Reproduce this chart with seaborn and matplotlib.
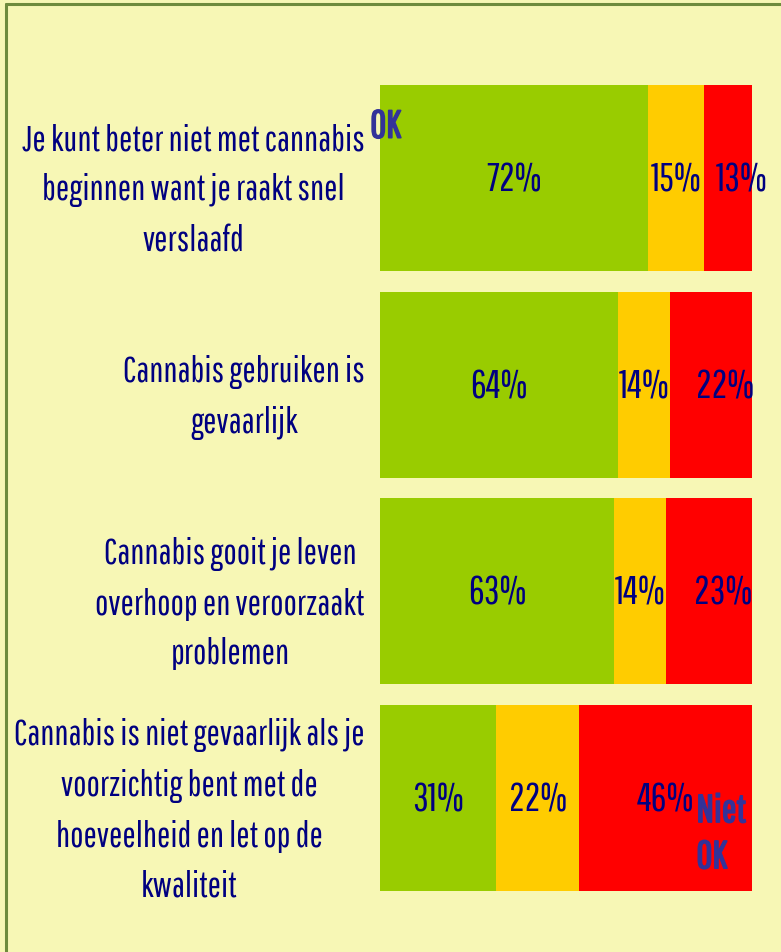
import pandas as pd
import seaborn as sns
from matplotlib import pyplot as plt
from matplotlib import patheffects as pe
from matplotlib.lines import Line2D

sns.set_style("white")
plt.rcParams['font.family'] = ['Pathway Gothic One', 'Liberation Sans Narrow', 'DejaVu Sans']

# data
categories = [
    "Je kunt beter niet met cannabis\nbeginnen want je raakt snel\nverslaafd",
    "Cannabis gebruiken is\ngevaarlijk",
    "Cannabis gooit je leven\noverhoop en veroorzaakt\nproblemen",
    "Cannabis is niet gevaarlijk als je\nvoorzichtig bent met de\nhoeveelheid en let op de\nkwaliteit",
]
ok = [72, 64, 63, 31]
neutral = [15, 14, 14, 22]
not_ok = [13, 22, 23, 46]

BG = "#F7F7B5"
NAVY = "#000080"
BLUE = "#333399"
colors = {"ok": "#99CC00", "neutral": "#FFCC00", "not_ok": "#FF0000"}

df = pd.DataFrame({"cat": categories, "ok": ok, "neutral": neutral, "not_ok": not_ok})
# 100% stacked: normalise each row
tot = df[["ok", "neutral", "not_ok"]].sum(axis=1)
df["s_ok"] = df.ok / tot * 100
df["s_neu"] = df.neutral / tot * 100
df["s_not"] = df.not_ok / tot * 100
df["c1"] = df.s_ok
df["c2"] = df.s_ok + df.s_neu
df["c3"] = df.c2 + df.s_not

fig = plt.figure(figsize=(7.81, 9.53), dpi=100, facecolor=BG)
ax = fig.add_axes([380 / 781, 1 - 892 / 953, 372 / 781, (892 - 86) / 953])
ax.set_facecolor(BG)

# draw largest cumulative first so the smaller ones sit on top
for col, key in [("c3", "not_ok"), ("c2", "neutral"), ("c1", "ok")]:
    sns.barplot(data=df, x=col, y="cat", color=colors[key], saturation=1,
                width=0.9, ax=ax, linewidth=0)

# percentage labels
fs_val = 28
fs_cat = 25.5
for i, row in df.iterrows():
    starts = [0, row.c1, row.c2]
    widths = [row.s_ok, row.s_neu, row.s_not]
    vals = [row.ok, row.neutral, row.not_ok]
    for j, (s, w, v) in enumerate(zip(starts, widths, vals)):
        dx = 10 if (j == 2 and w < 30) else 0
        ax.annotate(f"{v}%", xy=(s + w / 2, i), xytext=(dx, -1),
                    textcoords="offset points", ha="center", va="center",
                    fontsize=fs_val, color=NAVY, annotation_clip=False)

ax.set_xlim(0, 100)
ax.set_ylim(3.45, -0.45)
ax.set_xlabel("")
ax.set_ylabel("")
ax.set_xticks([])
ax.tick_params(axis="y", length=0, pad=11, labelsize=fs_cat, labelcolor=NAVY)
for lab in ax.get_yticklabels():
    lab.set_multialignment("center")
    lab.set_linespacing(1.62)
sns.despine(ax=ax, left=True, bottom=True)

bold = [pe.withStroke(linewidth=1.2, foreground=BLUE)]
ax.annotate("OK", xy=(0, -0.45), xytext=(-7, -30), textcoords="offset points",
            ha="left", va="center", fontsize=fs_val, color=BLUE,
            path_effects=bold, annotation_clip=False)
ax.annotate("Niet\nOK", xy=(100, 3), xytext=(-40, -26), textcoords="offset points",
            ha="left", va="center", fontsize=fs_val, color=BLUE,
            linespacing=1.35, path_effects=bold, annotation_clip=False)

# olive frame around the chart area
frame = dict(color="#6E8B3D", linewidth=2.2, transform=fig.transFigure, clip_on=False)
fig.add_artist(Line2D([6 / 781, 6 / 781], [0, 1 - 5 / 953], **frame))
fig.add_artist(Line2D([6 / 781, 1], [1 - 5 / 953, 1 - 5 / 953], **frame))

fig.savefig("out.png", dpi=100, facecolor=BG)
